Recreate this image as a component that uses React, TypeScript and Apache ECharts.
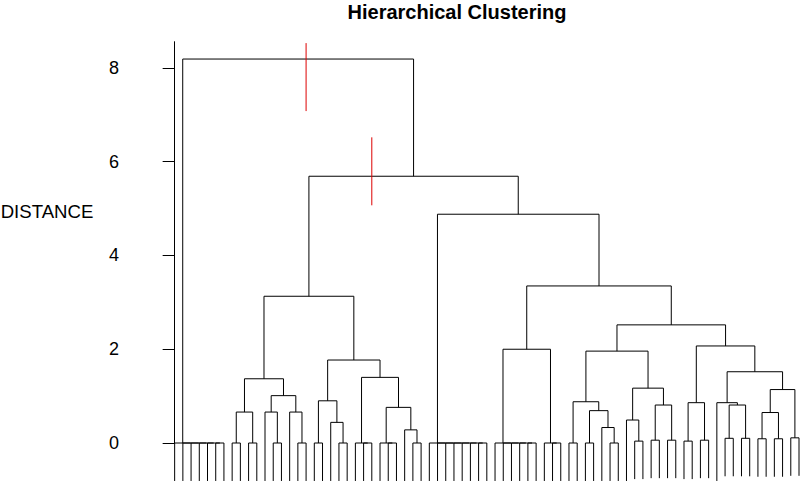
import React, { useEffect, useRef } from "react";
import * as echarts from "echarts";

type Node = number | [Node, Node, number];

// ---- data ----
const chartTitle = "Hierarchical Clustering";
const yAxisTitle = "DISTANCE";
const yTicks = [0, 2, 4, 6, 8];
const leafCount = 77;

// leaves are numbered 0..76 from left to right; [left, right, mergeHeight]
const groupA: Node = [0, [1, [2, [3, [4, [5, 6, 0], 0], 0], 0], 0], 0];
const groupL1: Node = [
  [[7, 8, 0], [9, 10, 0], 0.66],
  [[11, [12, 13, 0], 0.66], [14, [15, 16, 0], 0.66], 1.01],
  1.37,
];
const groupL2: Node = [
  [[17, 18, 0], [19, [20, 21, 0], 0.44], 0.9],
  [[22, [23, 24, 0], 0], [[25, [26, 27, 0], 0], [28, [29, 30, 0], 0.28], 0.76], 1.4],
  1.77,
];
const group31: Node = [31, [32, [33, [34, [35, [36, [37, 38, 0], 0], 0], 0], 0], 0], 0];
const group39: Node = [39, [40, [41, [42, [43, 44, 0], 0], 0], 0], 0];
const group45: Node = [45, [46, 47, 0], 0];
const groupRC1: Node = [
  [[48, 49, 0], [[50, 51, 0], [52, [53, 54, 0], 0.33], 0.69], 0.88],
  [[55, [56, 57, 0.04], 0.49], [[58, 59, 0.06], [60, 61, 0.06], 0.81], 1.17],
  1.96,
];
const groupRC2: Node = [
  [[62, 63, 0.04], [64, 65, 0.06], 0.86],
  [
    [66, [[67, 68, 0.1], [69, 70, 0.1], 0.81], 0.86],
    [[[71, 72, 0.09], [73, 74, 0.09], 0.65], [75, 76, 0.11], 1.14],
    1.52,
  ],
  2.07,
];
const tree: Node = [
  groupA,
  [
    [groupL1, groupL2, 3.13],
    [group31, [[group39, group45, 2.0], [groupRC1, groupRC2, 2.52], 3.35], 4.88],
    5.69,
  ],
  8.19,
];

// red cut markers: leaf position, low, high
const cutX = [16, 24];
const cutLow = [7.08, 5.07];
const cutHigh = [8.53, 6.52];

const hang = 0.81;
const yMax = 8.56;

function leafBottom(h: number) {
  return (h <= 0.15 ? h : 0) - hang;
}

type Seg = number[];

function layout(node: Node, segs: Seg[]): { x: number; h: number; leaf: boolean } {
  if (typeof node === "number") return { x: node, h: 0, leaf: true };
  const l = layout(node[0], segs);
  const r = layout(node[1], segs);
  const h = node[2];
  const lb = l.leaf ? leafBottom(h) : l.h;
  const rb = r.leaf ? leafBottom(h) : r.h;
  segs.push([l.x, lb, l.x, h, r.x, h, r.x, rb, 0]);
  return { x: (l.x + r.x) / 2, h, leaf: false };
}

export default function App() {
  const ref = useRef<HTMLDivElement>(null);
  useEffect(() => {
    if (!ref.current) return;
    const chart = echarts.init(ref.current, undefined, { renderer: "svg" });
    const segs: Seg[] = [];
    layout(tree, segs);
    cutX.forEach((x, i) => segs.push([x, cutLow[i], x, cutHigh[i], x, cutHigh[i], x, cutHigh[i], 1]));

    chart.setOption({
      animation: false,
      backgroundColor: "#ffffff",
      graphic: [
        {
          type: "text",
          x: 457,
          y: 12,
          style: {
            text: chartTitle,
            fontFamily: "Liberation Sans",
            fontWeight: "bold",
            fontSize: 20,
            fill: "#000",
            textAlign: "center",
            textVerticalAlign: "middle",
          },
        },
        {
          type: "text",
          x: 47,
          y: 211,
          style: {
            text: yAxisTitle,
            fontFamily: "Liberation Sans",
            fontSize: 18.6,
            fill: "#000",
            textAlign: "center",
            textVerticalAlign: "middle",
          },
        },
      ],
      grid: { left: 150, right: 1, top: 41.7, bottom: 40 },
      xAxis: {
        type: "value",
        min: -3,
        max: leafCount - 1,
        show: false,
      },
      yAxis: {
        type: "value",
        min: 0,
        max: yMax,
        axisLine: { show: true, lineStyle: { color: "#000", width: 1 } },
        axisTick: { show: true, length: 12, customValues: yTicks, lineStyle: { color: "#000" } },
        axisLabel: {
          customValues: yTicks,
          fontSize: 18,
          fontFamily: "Liberation Sans",
          color: "#000",
          margin: 31,
        },
        splitLine: { show: false },
      },
      series: [
        {
          type: "custom",
          clip: false,
          silent: true,
          data: segs,
          renderItem: (params: any, api: any) => {
            const pts = [];
            for (let k = 0; k < 4; k++) {
              pts.push(api.coord([api.value(2 * k), api.value(2 * k + 1)]));
            }
            const red = api.value(8) === 1;
            return {
              type: "polyline",
              shape: { points: pts },
              style: { stroke: red ? "#dd0000" : "#000", fill: "none", lineWidth: 1 },
            };
          },
        },
      ],
    });
    return () => chart.dispose();
  }, []);
  return (
    <div
      ref={ref}
      style={{ position: "fixed", left: 0, top: 0, width: 800, height: 483, background: "#fff" }}
    />
  );
}
